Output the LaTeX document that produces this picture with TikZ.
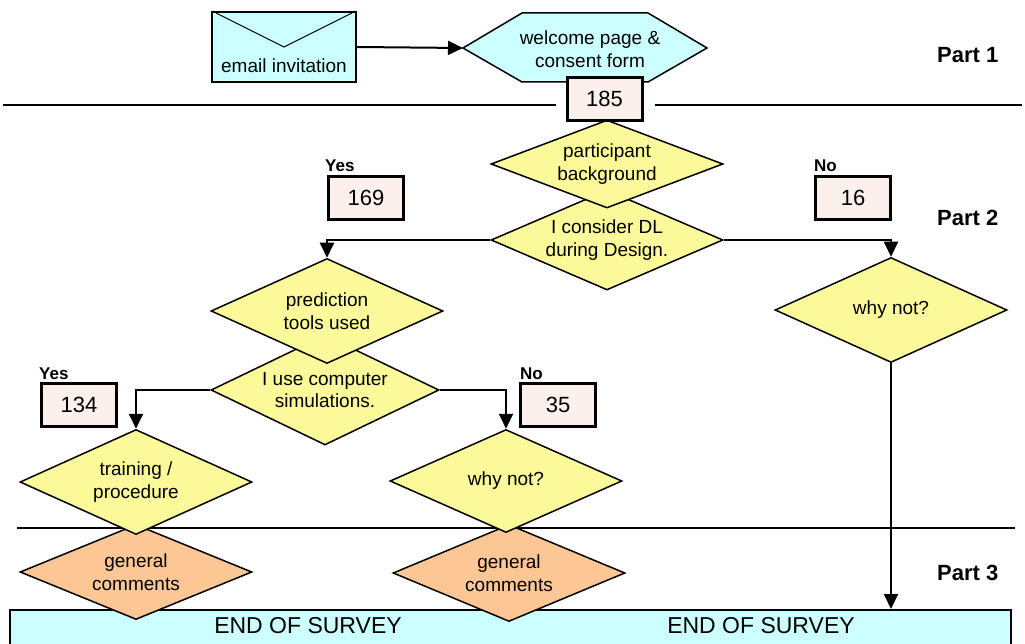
\documentclass[tikz,border=0pt]{standalone}
\usepackage{fontspec}
\setmainfont{Liberation Sans}
\usetikzlibrary{shapes.geometric,arrows.meta}
\definecolor{dyellow}{HTML}{FCF99A}
\definecolor{dcyan}{HTML}{CCFFFF}
\definecolor{dorange}{HTML}{FCC795}
\definecolor{dpink}{HTML}{FCF0EC}
\tikzset{
  txt/.style={font=\fontsize{19}{22.5}\selectfont},
  dia/.style={diamond, draw, line width=1.5pt, fill=dyellow, aspect=2.2, inner sep=0pt,
    minimum width=232pt, minimum height=105pt, align=center, txt},
  odia/.style={dia, fill=dorange},
  conn/.style={line width=2pt, -{Triangle[length=15pt,width=14pt]}},
  partline/.style={line width=2pt},
  numbox/.style={draw, line width=3pt, fill=dpink, minimum width=75pt, minimum height=43pt,
    inner sep=0pt, font=\fontsize{22}{26}\selectfont},
  yesno/.style={font=\bfseries\fontsize{17}{20}\selectfont, inner sep=0pt, anchor=base west},
  partlbl/.style={font=\bfseries\fontsize{22}{26}\selectfont, inner sep=0pt, anchor=west},
  endtxt/.style={font=\fontsize{23}{27}\selectfont, inner sep=0pt},
}
\begin{document}
\begin{tikzpicture}[x=1pt,y=-1pt]
\useasboundingbox (0,0) rectangle (1025,644);
\fill[white] (0,0) rectangle (1025,644);

% part separators
\draw[partline] (3,105) -- (556,105);
\draw[partline] (655,105) -- (1022,105);
\draw[partline] (17,528) -- (1015,528);

% end box
\node[draw, fill=dcyan, line width=1.5pt, minimum width=1001pt, minimum height=60pt,
      anchor=north west, inner sep=0pt] (endbox) at (9,609) {};
\node[endtxt] (end1) at (308,626) {END OF SURVEY};
\node[endtxt] (end2) at (761,626) {END OF SURVEY};

% email
\node[draw, line width=2pt, fill=dcyan, minimum width=144pt, minimum height=70pt, inner sep=0pt]
  (email) at (284,47) {};
\draw[line width=1pt] ([shift={(5,2)}]email.north west) -- (284,47) -- ([shift={(-5,2)}]email.north east);
\node[txt, anchor=base, inner sep=0pt] (emailtxt) at (284,73) {email invitation};

% welcome hexagon
\draw[fill=dcyan, line width=1.5pt] (463,48) coordinate (hexW) -- (522,13) -- (648,13)
  -- (707,48) -- (648,82) -- (522,82) -- cycle;
\node[txt, align=center] (hex) at (590,49) {welcome page \&\\consent form};
\draw[conn] (email.east) -- (hexW);

% part 2 top
\node[dia, minimum height=100pt] (dl) at (607,240) {I consider DL\\during Design.};
\node[dia, minimum height=88pt] (pb) at (607,164) {participant\\background};
\node[numbox] (n185) at (604.5,99) {185};

\node[dia, minimum width=228pt, minimum height=110pt] (sim) at (325,390) {I use computer\\simulations.};
\node[dia] (pred) at (327,311) {prediction\\tools used};

\node[dia] (wn2) at (891,310) {why not?};

% bottom
\node[odia, minimum height=95pt] (gc1) at (136,572) {general\\comments};
\node[odia, minimum height=97pt] (gc2) at (509,573) {general\\comments};
\node[dia] (train) at (136,482) {training /\\procedure};
\node[dia, minimum height=103pt] (wn1) at (506,481) {why not?};

% connectors
\draw[conn] (dl.west) -| (pred.north);
\draw[conn] (dl.east) -| (wn2.north);
\draw[conn] (sim.west) -| (train.north);
\draw[conn] (sim.east) -| (wn1.north);
\draw[conn] (wn2.south) -- (wn2.south |- endbox.north);

% count boxes
\node[numbox] (n169) at (366,198) {169};
\node[numbox] (n16) at (853,198) {16};
\node[numbox] (n134) at (79,405) {134};
\node[numbox] (n35) at (558,405) {35};
\node[yesno] (y169) at ([shift={(-2,-3)}]n169.north west) {Yes};
\node[yesno] (no16) at ([shift={(0,-3)}]n16.north west) {No};
\node[yesno] (y134) at ([shift={(-1,-3)}]n134.north west) {Yes};
\node[yesno] (no35) at ([shift={(1,-3)}]n35.north west) {No};

% part labels
\node[partlbl] (p1) at (937,55) {Part 1};
\node[partlbl] (p2) at (937,218) {Part 2};
\node[partlbl] (p3) at (937,573) {Part 3};
\end{tikzpicture}
\end{document}
